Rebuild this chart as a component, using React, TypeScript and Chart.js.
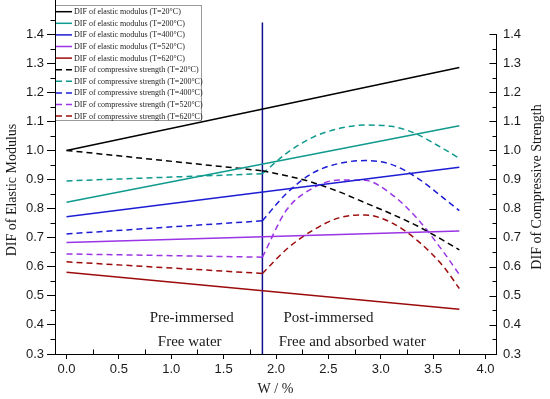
import React, { useEffect, useRef } from 'react';
import { Chart, registerables } from 'chart.js';

Chart.register(...registerables);

// ---------- data ----------
const xTickValues = [0, 0.5, 1, 1.5, 2, 2.5, 3, 3.5, 4];
const yTickValues = [0.3, 0.4, 0.5, 0.6, 0.7, 0.8, 0.9, 1.0, 1.1, 1.2, 1.3, 1.4];

const tempLabels = ['20', '200', '400', '520', '620'];

// elastic modulus (straight lines)
const elasticX = [0, 3.75];
const elasticT20 = [1.0, 1.285];
const elasticT200 = [0.822, 1.085];
const elasticT400 = [0.772, 0.942];
const elasticT520 = [0.683, 0.723];
const elasticT620 = [0.581, 0.454];

// compressive strength: pre-immersed (straight) and post-immersed (curved)
const preX = [0, 1.87];
const postX = [1.87, 2.1, 2.35, 2.6, 2.85, 3.1, 3.35, 3.6, 3.75];
const compT20Pre = [1.0, 0.93];
const compT20Post = [0.93, 0.913, 0.89, 0.858, 0.82, 0.782, 0.74, 0.69, 0.658];
const compT200Pre = [0.895, 0.92];
const compT200Post = [0.92, 0.99, 1.045, 1.075, 1.087, 1.083, 1.055, 1.005, 0.973];
const compT400Pre = [0.713, 0.758];
const compT400Post = [0.758, 0.852, 0.922, 0.955, 0.965, 0.952, 0.905, 0.836, 0.793];
const compT520Pre = [0.644, 0.633];
const compT520Post = [0.633, 0.795, 0.87, 0.898, 0.897, 0.85, 0.765, 0.65, 0.573];
const compT620Pre = [0.617, 0.577];
const compT620Post = [0.577, 0.66, 0.725, 0.768, 0.778, 0.752, 0.69, 0.6, 0.525];

// boundary between pre- and post-immersed
const boundaryX = [1.87, 1.87];
const boundaryY = [0.3, 1.44];

// ---------- styles ----------
const seriesColors = ['#000000', '#0f9a8e', '#1d1dd4', '#9a34e4', '#9c0b0b'];
const boundaryColor = '#10108f';
const SERIF = '"Liberation Serif", "Times New Roman", serif';
const SANS = '"Liberation Sans", Arial, sans-serif';

const pts = (xs: number[], ys: number[]) => xs.map((x, i) => ({ x, y: ys[i] }));

const decorPlugin = {
  id: 'decor',
  afterDraw(chart: any) {
    const { ctx, chartArea, scales } = chart;
    const xs = scales.x;
    const yl = scales.y;
    const yr = scales.y2;
    ctx.save();
    ctx.strokeStyle = '#000';
    ctx.lineWidth = 1;
    // right axis line (up to 1.4)
    const rx = Math.round(chartArea.right) + 0.5;
    ctx.beginPath();
    ctx.moveTo(rx, yr.getPixelForValue(1.4));
    ctx.lineTo(rx, chartArea.bottom);
    ctx.stroke();
    // right axis inward ticks
    for (let v = 0.3; v <= 1.401; v += 0.05) {
      const major = Math.abs(v * 10 - Math.round(v * 10)) < 0.01;
      const py = Math.round(yr.getPixelForValue(v)) + 0.5;
      ctx.beginPath();
      ctx.moveTo(rx, py);
      ctx.lineTo(rx - (major ? 7 : 4), py);
      ctx.stroke();
    }
    // left axis minor ticks (outward)
    const lx = Math.round(chartArea.left) + 0.5;
    for (let v = 0.35; v <= 1.46; v += 0.1) {
      const py = Math.round(yl.getPixelForValue(v)) + 0.5;
      ctx.beginPath();
      ctx.moveTo(lx, py);
      ctx.lineTo(lx - 5, py);
      ctx.stroke();
    }
    // bottom axis minor ticks (inward)
    const by = Math.round(chartArea.bottom) + 0.5;
    for (let v = 0.25; v <= 4.0; v += 0.5) {
      const px = Math.round(xs.getPixelForValue(v)) + 0.5;
      ctx.beginPath();
      ctx.moveTo(px, by);
      ctx.lineTo(px, by - 5);
      ctx.stroke();
    }

    // region annotations
    ctx.fillStyle = '#1a1a1a';
    ctx.font = `15px ${SERIF}`;
    ctx.textAlign = 'center';
    ctx.textBaseline = 'middle';
    const txt = (s: string, x: number, y: number) =>
      ctx.fillText(s, xs.getPixelForValue(x), yl.getPixelForValue(y));
    txt('Pre-immersed', 1.195, 0.424);
    txt('Free water', 1.176, 0.341);
    txt('Post-immersed', 2.5, 0.424);
    txt('Free and absorbed water', 2.728, 0.341);

    // axis titles (y)
    ctx.font = `14px ${SERIF}`;
    ctx.save();
    ctx.translate(12.5, 190);
    ctx.rotate(-Math.PI / 2);
    ctx.fillText('DIF of Elastic Modulus', 0, 0);
    ctx.restore();
    ctx.save();
    ctx.translate(537, 187);
    ctx.rotate(-Math.PI / 2);
    ctx.fillText('DIF of Compressive Strength', 0, 0);
    ctx.restore();

    // legend box
    const entries = chart.data.datasets.filter((d: any) => d.label);
    const left = Math.round(chartArea.left);
    const top = Math.round(chartArea.top);
    const w = 146;
    const h = 115;
    ctx.fillStyle = '#ffffff';
    ctx.fillRect(left, top, w, h);
    ctx.strokeStyle = '#9a9a9a';
    ctx.lineWidth = 1;
    ctx.strokeRect(left + 0.5, top + 0.5, w, h);
    ctx.strokeStyle = '#000';
    ctx.beginPath();
    ctx.moveTo(lx, top - 5);
    ctx.lineTo(lx, top + h + 1);
    ctx.stroke();
    ctx.textAlign = 'left';
    ctx.font = `8px ${SERIF}`;
    entries.forEach((d: any, i: number) => {
      const y = top + 6.7 + i * 11.6;
      ctx.strokeStyle = d.borderColor;
      ctx.lineWidth = 1.5;
      ctx.setLineDash(d.borderDash || []);
      ctx.beginPath();
      ctx.moveTo(left + 1, y);
      ctx.lineTo(left + 17, y);
      ctx.stroke();
      ctx.setLineDash([]);
      ctx.fillStyle = '#1a1a1a';
      ctx.fillText(d.label, left + 19, y + 0.5);
    });
    ctx.restore();
  },
};

export default function App() {
  const ref = useRef<HTMLCanvasElement>(null);

  useEffect(() => {
    document.body.style.margin = '0';
    const canvas = ref.current;
    if (!canvas) return;

    const elasticSeries = [elasticT20, elasticT200, elasticT400, elasticT520, elasticT620];
    const preSeries = [compT20Pre, compT200Pre, compT400Pre, compT520Pre, compT620Pre];
    const postSeries = [compT20Post, compT200Post, compT400Post, compT520Post, compT620Post];

    const datasets: any[] = [];
    elasticSeries.forEach((ys, i) => {
      datasets.push({
        label: `DIF of elastic modulus (T=${tempLabels[i]}°C)`,
        data: pts(elasticX, ys),
        borderColor: seriesColors[i],
        backgroundColor: seriesColors[i],
        borderWidth: 1.5,
        pointRadius: 0,
        tension: 0,
        yAxisID: 'y',
      });
    });
    preSeries.forEach((ys, i) => {
      datasets.push({
        label: `DIF of compressive strength (T=${tempLabels[i]}°C)`,
        data: pts(preX, ys),
        borderColor: seriesColors[i],
        backgroundColor: seriesColors[i],
        borderWidth: 1.5,
        borderDash: [6, 4],
        pointRadius: 0,
        tension: 0,
        yAxisID: 'y2',
      });
    });
    postSeries.forEach((ys, i) => {
      datasets.push({
        label: '',
        data: pts(postX, ys),
        borderColor: seriesColors[i],
        backgroundColor: seriesColors[i],
        borderWidth: 1.5,
        borderDash: [6, 4],
        pointRadius: 0,
        cubicInterpolationMode: 'monotone',
        yAxisID: 'y2',
      });
    });
    datasets.push({
      label: '',
      data: pts(boundaryX, boundaryY),
      borderColor: boundaryColor,
      borderWidth: 1.5,
      pointRadius: 0,
      yAxisID: 'y',
    });

    const tickFont = { family: SANS, size: 13 };
    const zeroPad = (s: any) => {
      s.paddingTop = 0;
      s.paddingBottom = 0;
    };

    const chart = new Chart(canvas, {
      type: 'line',
      data: { datasets },
      plugins: [decorPlugin],
      options: {
        responsive: false,
        animation: false,
        devicePixelRatio: 1,
        layout: { padding: { top: 5, left: 0, right: 0, bottom: 0 } },
        plugins: { legend: { display: false }, tooltip: { enabled: false } },
        scales: {
          x: {
            type: 'linear',
            min: -0.11,
            max: 4.1,
            afterBuildTicks: (s: any) => {
              s.ticks = xTickValues.map((v) => ({ value: v }));
            },
            afterFit: (s: any) => {
              s.height = 45;
              s.paddingLeft = 0;
              s.paddingRight = 0;
            },
            ticks: {
              autoSkip: false,
              maxRotation: 0,
              padding: 3,
              color: '#1a1a1a',
              font: tickFont,
              callback: (v: any) => Number(v).toFixed(1),
            },
            grid: { drawOnChartArea: false, tickLength: 5, tickColor: '#000' },
            border: { color: '#000', width: 1 },
            title: {
              display: true,
              text: 'W / %',
              color: '#1a1a1a',
              font: { family: SERIF, size: 14 },
              padding: { top: 0, bottom: 1 },
            },
          },
          y: {
            type: 'linear',
            position: 'left',
            min: 0.3,
            max: 1.5,
            afterBuildTicks: (s: any) => {
              s.ticks = yTickValues.map((v) => ({ value: v }));
            },
            afterFit: (s: any) => {
              s.width = 55;
              zeroPad(s);
            },
            ticks: {
              autoSkip: false,
              padding: 3,
              color: '#1a1a1a',
              font: tickFont,
              callback: (v: any) => Number(v).toFixed(1),
            },
            grid: { drawOnChartArea: false, tickLength: 8, tickColor: '#000' },
            border: { color: '#000', width: 1 },
          },
          y2: {
            type: 'linear',
            position: 'right',
            min: 0.3,
            max: 1.5,
            afterBuildTicks: (s: any) => {
              s.ticks = yTickValues.map((v) => ({ value: v }));
            },
            afterFit: (s: any) => {
              s.width = 54;
              zeroPad(s);
            },
            ticks: {
              autoSkip: false,
              padding: 7,
              color: '#1a1a1a',
              font: tickFont,
              callback: (v: any) => Number(v).toFixed(1),
            },
            grid: { drawOnChartArea: false, drawTicks: false },
            border: { display: false },
          },
        },
      } as any,
    });

    return () => chart.destroy();
  }, []);

  return (
    <div style={{ position: 'absolute', left: 0, top: 0, width: 550, height: 399, background: '#fff' }}>
      <canvas ref={ref} width={550} height={399} style={{ display: 'block', width: 550, height: 399 }} />
    </div>
  );
}
